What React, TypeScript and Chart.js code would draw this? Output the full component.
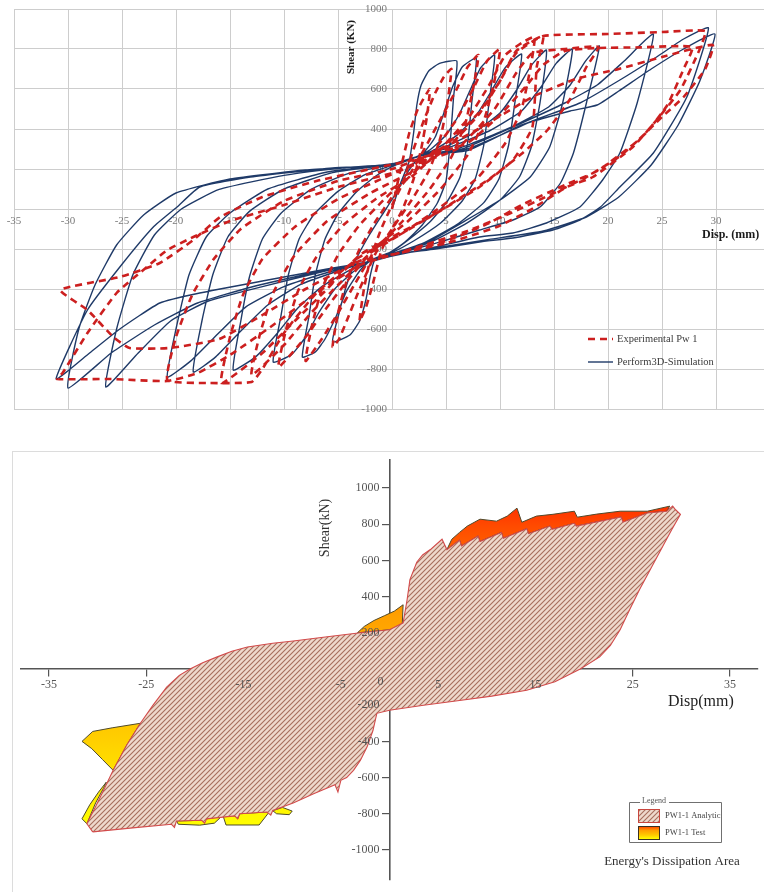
import React, { useEffect, useRef } from 'react';
import { Chart, registerables } from 'chart.js';

Chart.register(...registerables);

type Pt = [number, number];

// ---------- PW1 hysteresis: displacement (mm) vs shear (kN) ----------

// Perform3D simulation, one array per loading cycle
const simCycle1: Pt[] = [
  [0, 0], [0.8, 130], [1.6, 240], [2.0, 380], [2.3, 520], [2.7, 620], [3.4, 690], [4.4, 728], [6.0, 740],
  [5.7, 560], [5.4, 340], [5.0, 140], [4.2, 30], [2.8, -80], [1.2, -165], [-0.3, -220], [-1.6, -255],
  [-2.0, -330], [-2.4, -450], [-3.0, -560], [-3.9, -630], [-5.5, -665],
  [-4.9, -520], [-4.2, -380], [-3.3, -250], [-2.1, -130], [-0.8, -20], [0.5, 90], [1.4, 180], [2.2, 240],
];
const simCycle2: Pt[] = [
  [3.0, 285], [4.0, 360], [4.8, 480], [5.6, 610], [6.5, 710], [7.8, 755],
  [7.4, 540], [7.0, 330], [6.3, 160], [5.2, 45], [3.5, -65], [1.5, -155], [0, -212], [-2.0, -258],
  [-3.0, -310], [-4.2, -410], [-5.2, -540], [-6.2, -650], [-7.1, -715], [-8.3, -740],
  [-7.7, -540], [-7.1, -330], [-6.2, -150], [-5.0, -25], [-3.3, 85], [-1.5, 165], [0, 212], [2.0, 255],
];
const simCycle3: Pt[] = [
  [3.5, 295], [5.0, 370], [6.2, 470], [7.2, 590], [8.2, 705], [9.5, 770],
  [9.0, 540], [8.5, 320], [7.7, 150], [6.5, 40], [4.5, -70], [2.0, -160], [0, -218], [-2.0, -260],
  [-3.5, -310], [-5.3, -400], [-6.8, -520], [-8.0, -640], [-9.3, -728], [-11.0, -765],
  [-10.3, -540], [-9.6, -330], [-8.6, -150], [-7.2, -25], [-5.0, 88], [-2.5, 172], [0, 218], [2.2, 258],
];
const simCycle4: Pt[] = [
  [4.0, 298], [6.0, 368], [7.8, 468], [9.2, 590], [10.5, 708], [12.0, 775],
  [11.4, 540], [10.8, 320], [9.9, 150], [8.5, 32], [6.0, -78], [3.0, -168], [0, -224], [-2.0, -260],
  [-4.0, -308], [-6.5, -388], [-8.8, -500], [-10.6, -620], [-12.6, -738], [-14.7, -805],
  [-14.0, -560], [-13.2, -340], [-12.0, -150], [-10.3, -22], [-7.5, 98], [-4.0, 178], [0, 222], [2.3, 260],
];
const simCycle5: Pt[] = [
  [4.5, 300], [7.5, 378], [10.0, 480], [11.6, 600], [12.9, 718], [14.3, 795],
  [13.7, 530], [12.9, 310], [11.8, 160], [10.0, 45], [7.0, -68], [3.5, -168], [0, -226], [-2.0, -260],
  [-5.0, -310], [-8.5, -378], [-11.5, -480], [-14.0, -610], [-16.3, -738], [-18.4, -815],
  [-17.6, -560], [-16.6, -330], [-15.2, -140], [-13.2, -12], [-10.0, 100], [-5.5, 182], [0, 224], [2.4, 262],
];
const simCycle6: Pt[] = [
  [5.0, 302], [9.0, 390], [12.0, 490], [13.8, 610], [15.2, 728], [16.7, 800],
  [15.8, 530], [14.6, 310], [12.8, 160], [10.0, 45], [7.0, -52], [3.5, -160], [0, -228], [-2.0, -262],
  [-5.5, -310], [-10.0, -388], [-13.5, -488], [-16.0, -618], [-18.6, -758], [-20.8, -840],
  [-20.0, -600], [-18.8, -330], [-17.2, -140], [-15.0, -20], [-11.5, 100], [-6.0, 185], [0, 226], [2.5, 264],
];
const simCycle7: Pt[] = [
  [6.0, 300], [11.0, 408], [14.5, 510], [16.5, 620], [17.9, 738], [19.2, 815],
  [18.0, 530], [16.8, 280], [15.6, 130], [13.7, 10], [11.2, -55], [8.1, -105], [4.0, -172], [0, -230], [-2.0, -262],
  [-6.0, -308], [-12.0, -388], [-17.0, -460], [-20.5, -560], [-23.5, -720], [-26.5, -890],
  [-25.5, -600], [-24.0, -330], [-22.0, -130], [-19.5, 0], [-16.0, 98], [-10.0, 168], [-4.0, 208], [0, 224], [2.6, 266],
];
const simCycle8: Pt[] = [
  [6.5, 300], [12.0, 430], [16.0, 530], [19.0, 620], [21.5, 740], [24.2, 875],
  [22.7, 530], [21.1, 280], [19.5, 145], [17.4, 10], [14.3, -70], [11.2, -120], [8.1, -140], [4.0, -190], [0, -235], [-2.0, -262],
  [-6.5, -310], [-13.0, -390], [-18.0, -470], [-22.0, -580], [-26.0, -720], [-30.0, -895],
  [-29.0, -600], [-27.5, -380], [-25.5, -180], [-23.0, -30], [-20.0, 80], [-15.0, 150], [-8.0, 195], [0, 224], [2.7, 268],
];
const simCycle9: Pt[] = [
  [7.0, 300], [13.0, 440], [17.4, 530], [21.1, 645], [24.5, 760], [27.0, 850], [29.3, 905],
  [27.3, 560], [24.2, 280], [21.1, 110], [19.3, 10], [17.4, -55], [14.9, -105], [11.2, -145], [8.1, -165], [4.0, -200], [0, -228], [-2.0, -262],
  [-6.0, -300], [-12.0, -360], [-17.8, -420], [-21.5, -470], [-25.2, -600], [-28.0, -720], [-31.1, -850],
  [-28.2, -505], [-25.2, -290], [-22.1, -90], [-19.9, 10], [-17.8, 110], [-13.1, 160], [-5.5, 205], [0, 220], [2.8, 270],
];
const simCycle10: Pt[] = [
  [7.0, 292], [12.0, 420], [16.5, 490], [19.0, 520], [21.0, 590], [24.0, 700], [27.0, 800], [29.9, 875],
  [28.5, 640], [26.5, 420], [24.0, 220], [21.0, 60], [18.0, -40], [14.0, -110], [9.0, -152], [4.0, -195], [0, -230],
];
const simCycles = [simCycle1, simCycle2, simCycle3, simCycle4, simCycle5, simCycle6, simCycle7, simCycle8, simCycle9, simCycle10];

// Experimental PW 1, one array per loading cycle
const expCycle1: Pt[] = [
  [0, 0], [0.8, 200], [1.6, 380], [2.4, 500], [3.5, 600],
  [3.2, 450], [2.7, 300], [2.0, 150], [1.0, 0], [0, -100], [-1.0, -210],
  [-1.8, -380], [-2.4, -490], [-3.0, -560],
  [-2.6, -400], [-2.0, -250], [-1.0, -100], [0, 20], [1.0, 130],
];
const expCycle2: Pt[] = [
  [2.0, 300], [3.0, 450], [4.0, 580], [4.8, 660], [5.5, 700],
  [5.1, 520], [4.5, 360], [3.5, 200], [2.0, 60], [0, -100], [-1.5, -220],
  [-3.0, -400], [-4.2, -560], [-4.9, -650], [-5.5, -690],
  [-5.0, -520], [-4.2, -360], [-3.0, -200], [-1.5, -60], [0, 60], [1.5, 160],
];
const expCycle3: Pt[] = [
  [3.0, 300], [4.5, 450], [6.0, 600], [7.0, 710], [8.0, 770],
  [7.5, 600], [6.8, 430], [5.5, 260], [3.5, 100], [1.0, -60], [-1.5, -200],
  [-3.5, -380], [-5.0, -520], [-6.5, -650], [-8.0, -760],
  [-7.4, -580], [-6.5, -400], [-5.0, -230], [-3.0, -80], [-0.5, 60], [2.0, 180],
];
const expCycle4: Pt[] = [
  [4.0, 300], [6.0, 450], [7.5, 600], [8.8, 740], [10.0, 800],
  [9.4, 620], [8.5, 440], [7.0, 270], [4.5, 100], [1.5, -60], [-1.5, -190],
  [-4.0, -350], [-6.0, -490], [-8.0, -640], [-10.5, -790],
  [-9.8, -600], [-8.7, -410], [-7.0, -240], [-4.5, -80], [-1.5, 50], [2.0, 170],
];
const expCycle5: Pt[] = [
  [4.5, 300], [7.0, 450], [9.0, 620], [10.5, 770], [12.0, 830], [13.2, 860],
  [12.8, 700], [12.0, 500], [10.5, 330], [8.0, 160], [4.5, 10], [1.0, -120], [-2.0, -220],
  [-5.0, -380], [-7.5, -520], [-10.0, -680], [-13.0, -830],
  [-12.2, -620], [-11.0, -420], [-9.0, -230], [-6.0, -60], [-2.0, 80], [2.0, 190],
];
const expCycle6: Pt[] = [
  [5.0, 300], [8.0, 470], [10.0, 640], [11.5, 790], [14.0, 865],
  [13.4, 710], [13.0, 410], [11.2, 245], [8.1, 110], [3.5, -40], [0, -140], [-3.0, -230],
  [-6.0, -400], [-9.0, -560], [-12.0, -720], [-15.8, -870],
  [-15.0, -640], [-13.8, -430], [-12.0, -250], [-9.0, -90], [-5.0, 50], [-1.0, 150], [2.0, 220],
];
const expCycle7: Pt[] = [
  [6.0, 300], [9.5, 500], [11.5, 680], [13.0, 780], [16.0, 800], [19.1, 810],
  [18.0, 710], [16.5, 550], [14.4, 395], [12.1, 280], [9.0, 150], [5.0, 10], [1.0, -120], [-3.0, -240],
  [-7.0, -420], [-10.0, -620], [-12.0, -800], [-13.0, -865], [-17.0, -870], [-20.8, -855],
  [-20.0, -640], [-18.5, -430], [-16.5, -250], [-14.0, -100], [-10.0, 40], [-5.0, 140], [0, 200], [3.0, 260],
];
const expCycle8: Pt[] = [
  [7.0, 330], [10.0, 470], [12.5, 620], [14.0, 720], [16.0, 790], [19.0, 805], [23.0, 808], [27.8, 810],
  [27.0, 700], [25.5, 520], [23.5, 380], [21.0, 260], [18.0, 160], [15.0, 80], [11.0, -20], [7.0, -110], [3.0, -180], [0, -230], [-3.0, -280],
  [-7.0, -420], [-11.0, -580], [-15.0, -730], [-18.0, -820], [-20.8, -860], [-26.0, -850], [-31.0, -850],
  [-30.5, -820], [-28.2, -620], [-25.5, -420], [-22.7, -290], [-20.8, -205], [-18.4, -140], [-15.0, -60], [-10.0, 20], [-5.0, 110], [0, 180], [3.0, 250],
];
const expCycle9: Pt[] = [
  [5.0, 320], [8.0, 480], [10.0, 640], [11.5, 780], [14.0, 865], [20.0, 875], [25.0, 885], [29.0, 890],
  [28.5, 800], [26.7, 595], [24.5, 445], [22.3, 310], [18.6, 160], [16.2, 110], [12.8, -5], [9.7, -90], [5.1, -170], [0.7, -220], [-3.0, -260],
  [-8.0, -400], [-12.0, -530], [-16.0, -650], [-20.6, -695], [-24.3, -695], [-25.8, -640], [-28.2, -505], [-30.7, -405],
  [-25.2, -340], [-21.5, -270], [-18.4, -155], [-15.9, -40], [-12.0, 60], [-7.0, 140], [-2.0, 200], [3.0, 260],
];
const expCycle10: Pt[] = [
  [8.0, 400], [13.0, 560], [17.0, 650], [21.0, 700], [25.0, 760], [29.7, 820],
  [29.0, 700], [27.0, 560], [25.0, 460], [22.5, 330], [19.0, 190], [16.0, 120], [12.0, 20], [9.0, -70], [5.0, -160], [1.0, -215],
];
const expCycles = [expCycle1, expCycle2, expCycle3, expCycle4, expCycle5, expCycle6, expCycle7, expCycle8, expCycle9, expCycle10];

// ---------- Energy dissipation areas (closed outlines) ----------
const analyticArea: Pt[] = [
  [-30.5, -900], [-31.1, -855], [-30.2, -760], [-29.3, -660], [-28.4, -560], [-27.0, -420], [-25.6, -300],
  [-24.3, -200], [-22.9, -100], [-21.6, -35], [-20.5, 0], [-19.2, 35], [-17.7, 67], [-16.2, 98], [-14.6, 122],
  [-12.0, 142], [-9.9, 155], [-6.4, 178], [-3.0, 200], [0, 217], [1.4, 255], [1.8, 380], [2.1, 494], [2.8, 590],
  [3.4, 630], [4.2, 660], [5.4, 717], [5.9, 660], [7.2, 712], [7.4, 680], [9.1, 735], [9.3, 705], [11.5, 755],
  [11.7, 722], [14.1, 775], [14.3, 748], [16.5, 790], [16.7, 772], [19.0, 805], [19.2, 790], [23.8, 840],
  [24.0, 812], [26.5, 862], [28.5, 872], [29.1, 900], [29.4, 880], [29.9, 855],
  [29.0, 770], [28.1, 680], [26.9, 560], [25.7, 440], [24.7, 330], [23.7, 217], [22.7, 130], [21.6, 67],
  [19.6, 0], [17.0, -70], [14.1, -117], [10.5, -150], [7.0, -175], [3.5, -200], [0, -228], [-1.3, -245],
  [-1.7, -340], [-2.3, -430], [-3.0, -505], [-3.7, -560], [-4.4, -600], [-5.0, -615], [-5.3, -680], [-5.6, -640],
  [-7.8, -690], [-9.9, -740], [-12.0, -782], [-12.2, -808], [-12.6, -790], [-15.4, -800], [-15.6, -828],
  [-15.9, -812], [-18.8, -828], [-19.0, -852], [-19.3, -836], [-21.9, -840], [-22.1, -876], [-22.4, -858],
  [-26.4, -878], [-30.5, -900],
];
const testTopStrip: Pt[] = [
  [5.9, 660], [6.4, 717], [7.2, 755], [8.0, 790], [9.3, 828], [11.0, 817], [12.1, 845], [13.1, 889], [13.6, 811],
  [15.1, 845], [16.8, 855], [19.0, 872], [19.3, 839], [21.3, 856], [23.7, 872], [26.5, 872], [28.8, 900],
  [28.5, 872], [26.5, 862], [24.0, 812], [23.8, 840], [19.2, 790], [19.0, 805], [16.7, 772], [16.5, 790],
  [14.3, 748], [14.1, 775], [11.7, 722], [11.5, 755], [9.3, 705], [9.1, 735], [7.4, 680], [7.2, 712], [5.9, 660],
];
const testOrigin: Pt[] = [
  [-3.3, 200], [-2.6, 235], [-1.6, 268], [-0.5, 295], [0.5, 320], [1.4, 355], [1.3, 233], [0, 217], [-3.3, 200],
];
const testFin: Pt[] = [
  [-31.6, -400], [-30.5, -345], [-28.5, -325], [-25.6, -300], [-26.3, -360], [-27.0, -420], [-27.7, -490],
  [-28.4, -560], [-29.5, -500], [-30.6, -440], [-31.6, -400],
];
const testSliver: Pt[] = [
  [-31.6, -828], [-30.8, -750], [-29.9, -680], [-29.1, -625], [-29.4, -660], [-30.2, -740], [-31.1, -855], [-31.6, -828],
];
const testBlob1: Pt[] = [
  [-21.9, -840], [-21.7, -858], [-19.5, -863], [-18.0, -852], [-17.2, -812], [-18.8, -828], [-19.3, -836], [-21.9, -840],
];
const testBlob2: Pt[] = [
  [-17.1, -812], [-16.8, -862], [-13.4, -862], [-12.3, -786], [-12.6, -790], [-15.4, -800], [-15.6, -828], [-15.9, -812], [-17.1, -812],
];
const testBlob3: Pt[] = [
  [-12.0, -783], [-11.6, -800], [-10.3, -805], [-10.0, -785], [-11.0, -765], [-12.0, -783],
];
const testAreas = [testTopStrip, testOrigin, testFin, testSliver, testBlob1, testBlob2, testBlob3];

const topShearLabels = [-1000, -800, -600, -400, -200, 200, 400, 600, 800, 1000];
const bottomDispTicks = [-35, -25, -15, -5, 5, 15, 25, 35];
const bottomShearTicks = [-1000, -800, -600, -400, -200, 200, 400, 600, 800, 1000];
const topSeriesNames = ['Experimental Pw 1', 'Perform3D-Simulation'];
const bottomSeriesNames = ['PW1-1 Analytic', 'PW1-1 Test'];

const SERIF = '"Liberation Serif", "DejaVu Serif", serif';
const RED = '#cc1f1f';
const NAVY = '#1f3a68';

const toXY = (pts: Pt[]) => pts.map(([x, y]) => ({ x, y }));

function makeHatch(): CanvasPattern | string {
  const c = document.createElement('canvas');
  c.width = 5;
  c.height = 5;
  const g = c.getContext('2d');
  if (!g) return '#e6cbbb';
  g.fillStyle = '#efd9cc';
  g.fillRect(0, 0, 5, 5);
  g.strokeStyle = '#a66e5c';
  g.lineWidth = 1.1;
  g.beginPath();
  g.moveTo(0, 5); g.lineTo(5, 0);
  g.moveTo(-1, 1); g.lineTo(1, -1);
  g.moveTo(4, 6); g.lineTo(6, 4);
  g.stroke();
  return g.createPattern(c, 'repeat') || '#e6cbbb';
}

function testGradient(ctx: CanvasRenderingContext2D, yTop: number, yBottom: number): CanvasGradient | string {
  if (!Number.isFinite(yTop) || !Number.isFinite(yBottom) || yTop === yBottom) return '#ffcc00';
  const g = ctx.createLinearGradient(0, yTop, 0, yBottom);
  g.addColorStop(0, '#ff3000');
  g.addColorStop(0.06, '#ff4a00');
  g.addColorStop(0.34, '#ffa000');
  g.addColorStop(0.71, '#ffcc00');
  g.addColorStop(1, '#ffff00');
  return g;
}

// value labels beside a centred vertical axis
function drawShearLabels(chart: any, values: number[], gap: number, font: string, color: string) {
  const { ctx, scales } = chart;
  const x0 = scales.x.getPixelForValue(0);
  ctx.save();
  ctx.font = font;
  ctx.fillStyle = color;
  ctx.textAlign = 'right';
  ctx.textBaseline = 'middle';
  values.forEach((v) => ctx.fillText(String(v), x0 - gap, scales.y.getPixelForValue(v)));
  ctx.restore();
}

// value labels under a centred horizontal axis
function drawDispLabels(chart: any, values: number[], gap: number, font: string, color: string) {
  const { ctx, scales } = chart;
  const y0 = scales.y.getPixelForValue(0);
  ctx.save();
  ctx.font = font;
  ctx.fillStyle = color;
  ctx.textAlign = 'center';
  ctx.textBaseline = 'middle';
  values.forEach((v) => ctx.fillText(String(v), scales.x.getPixelForValue(v), y0 + gap));
  ctx.restore();
}

const topDecor = {
  id: 'topDecor',
  beforeDatasetsDraw(chart: any) {
    drawShearLabels(chart, topShearLabels, 5, `11px ${SERIF}`, '#7a7a7a');
  },
  afterDraw(chart: any) {
    const { ctx } = chart;
    ctx.save();
    ctx.fillStyle = '#1a1a1a';
    ctx.font = `bold 11px ${SERIF}`;
    ctx.textAlign = 'center';
    ctx.textBaseline = 'middle';
    ctx.translate(351, 47);
    ctx.rotate(-Math.PI / 2);
    ctx.fillText('Shear (KN)', 0, 0);
    ctx.restore();

    ctx.save();
    ctx.fillStyle = '#1a1a1a';
    ctx.font = `bold 12px ${SERIF}`;
    ctx.textAlign = 'left';
    ctx.textBaseline = 'middle';
    ctx.fillText('Disp. (mm)', 702, 235);

    // legend
    ctx.lineWidth = 2.6;
    ctx.strokeStyle = RED;
    ctx.setLineDash([7, 5]);
    ctx.beginPath();
    ctx.moveTo(588, 339);
    ctx.lineTo(613, 339);
    ctx.stroke();
    ctx.setLineDash([]);
    ctx.lineWidth = 1.4;
    ctx.strokeStyle = NAVY;
    ctx.beginPath();
    ctx.moveTo(588, 362);
    ctx.lineTo(613, 362);
    ctx.stroke();
    ctx.font = `10.5px ${SERIF}`;
    ctx.fillStyle = '#3a3a3a';
    ctx.fillText(topSeriesNames[0], 617, 339);
    ctx.fillText(topSeriesNames[1], 617, 362);
    ctx.restore();
  },
};

function bottomDecor(hatch: CanvasPattern | string) {
  return {
    id: 'bottomDecor',
    afterDraw(chart: any) {
      const { ctx, scales } = chart;
      drawShearLabels(chart, bottomShearTicks, 10, `12px ${SERIF}`, '#555');
      drawDispLabels(chart, bottomDispTicks, 16, `12px ${SERIF}`, '#555');
      const ox = scales.x.getPixelForValue(0);
      const oy = scales.y.getPixelForValue(0);
      ctx.save();
      ctx.fillStyle = '#555';
      ctx.font = `12px ${SERIF}`;
      ctx.textAlign = 'center';
      ctx.textBaseline = 'middle';
      ctx.fillText('0', ox - 9, oy + 13);

      ctx.fillStyle = '#333';
      ctx.font = `14px ${SERIF}`;
      ctx.save();
      ctx.translate(325, 88);
      ctx.rotate(-Math.PI / 2);
      ctx.fillText('Shear(kN)', 0, 0);
      ctx.restore();

      ctx.font = `16px ${SERIF}`;
      ctx.fillStyle = '#222';
      ctx.textAlign = 'left';
      ctx.fillText('Disp(mm)', 668, 262);

      // legend box
      ctx.strokeStyle = '#707070';
      ctx.lineWidth = 1;
      ctx.beginPath();
      ctx.moveTo(640, 362.5);
      ctx.lineTo(629.5, 362.5);
      ctx.lineTo(629.5, 402.5);
      ctx.lineTo(721.5, 402.5);
      ctx.lineTo(721.5, 362.5);
      ctx.lineTo(669, 362.5);
      ctx.stroke();
      ctx.font = `8px ${SERIF}`;
      ctx.fillStyle = '#555';
      ctx.fillText('Legend', 642, 361);

      ctx.fillStyle = hatch;
      ctx.fillRect(638, 369, 21, 13);
      ctx.strokeStyle = '#c8463e';
      ctx.strokeRect(638.5, 369.5, 21, 13);
      ctx.fillStyle = testGradient(ctx, 386, 399);
      ctx.fillRect(638, 386, 21, 13);
      ctx.strokeStyle = '#3a3020';
      ctx.strokeRect(638.5, 386.5, 21, 13);

      ctx.fillStyle = '#444';
      ctx.font = `8.5px ${SERIF}`;
      ctx.fillText(bottomSeriesNames[0], 665, 376);
      ctx.fillText(bottomSeriesNames[1], 665, 393);

      ctx.font = `13px ${SERIF}`;
      ctx.fillStyle = '#333';
      ctx.textAlign = 'center';
      ctx.fillText("Energy's Dissipation Area", 672, 422);
      ctx.restore();
    },
  };
}

export default function App() {
  const topRef = useRef<HTMLCanvasElement>(null);
  const botRef = useRef<HTMLCanvasElement>(null);

  useEffect(() => {
    if (!topRef.current || !botRef.current) return;
    const hatch = makeHatch();

    const top = new Chart(topRef.current, {
      type: 'scatter',
      data: {
        datasets: [
          {
            label: topSeriesNames[0],
            data: toXY(expCycles.flat()),
            showLine: true,
            borderColor: RED,
            borderWidth: 2.6,
            borderDash: [7, 5],
            pointRadius: 0,
            tension: 0.15,
            fill: false,
          },
          {
            label: topSeriesNames[1],
            data: toXY(simCycles.flat()),
            showLine: true,
            borderColor: NAVY,
            borderWidth: 1.4,
            pointRadius: 0,
            tension: 0.15,
            fill: false,
          },
        ],
      },
      options: {
        responsive: false,
        animation: false,
        events: [],
        layout: { padding: { left: 14, right: 10, top: 9, bottom: 21 } },
        plugins: { legend: { display: false }, tooltip: { enabled: false } },
        scales: {
          x: {
            type: 'linear',
            min: -35,
            max: 35,
            position: { y: 0 } as any,
            afterFit: (s: any) => { s.height = 0; s.paddingLeft = 0; s.paddingRight = 0; },
            ticks: { stepSize: 5, padding: 6, color: '#7a7a7a', font: { family: SERIF, size: 11 }, maxRotation: 0, autoSkip: false },
            grid: { color: '#cdcdcd', drawTicks: false },
            border: { color: '#cdcdcd' },
          },
          y: {
            type: 'linear',
            min: -1000,
            max: 1000,
            position: { x: 0 } as any,
            afterFit: (s: any) => { s.width = 0; s.paddingTop = 0; s.paddingBottom = 0; },
            ticks: { stepSize: 200, display: false },
            grid: { color: '#cdcdcd', drawTicks: false },
            border: { color: '#cdcdcd' },
          },
        },
      },
      plugins: [topDecor],
    });

    const testBg = (c: any) => {
      const ch = c.chart;
      const ys = ch && ch.scales && ch.scales.y;
      if (!ys || !ch.chartArea) return '#ffcc00';
      return testGradient(ch.ctx, ys.getPixelForValue(900), ys.getPixelForValue(-870));
    };

    const bot = new Chart(botRef.current, {
      type: 'scatter',
      data: {
        datasets: [
          {
            label: bottomSeriesNames[0],
            data: toXY(analyticArea),
            showLine: true,
            fill: 'shape',
            backgroundColor: hatch as any,
            borderColor: '#d24b4b',
            borderWidth: 1.1,
            pointRadius: 0,
            tension: 0,
          },
          ...testAreas.map((a) => ({
            label: bottomSeriesNames[1],
            data: toXY(a),
            showLine: true,
            fill: 'shape',
            backgroundColor: testBg,
            borderColor: '#4f4a2c',
            borderWidth: 1,
            pointRadius: 0,
            tension: 0,
          })),
        ] as any,
      },
      options: {
        responsive: false,
        animation: false,
        events: [],
        layout: { padding: { left: 21, right: 22, top: 20, bottom: 12 } },
        plugins: { legend: { display: false }, tooltip: { enabled: false } },
        scales: {
          x: {
            type: 'linear',
            min: -37.87,
            max: 37.87,
            position: { y: 0 } as any,
            afterFit: (s: any) => { s.height = 0; s.paddingLeft = 0; s.paddingRight = 0; },
            afterBuildTicks: (s: any) => { s.ticks = bottomDispTicks.map((value) => ({ value })); },
            ticks: { display: false },
            grid: { drawOnChartArea: false, drawTicks: true, tickLength: 7, color: '#555', lineWidth: 1.2 },
            border: { color: '#555', width: 1.6 },
          },
          y: {
            type: 'linear',
            min: -1166,
            max: 1155,
            position: { x: 0 } as any,
            afterFit: (s: any) => { s.width = 0; s.paddingTop = 0; s.paddingBottom = 0; },
            afterBuildTicks: (s: any) => { s.ticks = bottomShearTicks.map((value) => ({ value })); },
            ticks: { display: false },
            grid: { drawOnChartArea: false, drawTicks: true, tickLength: 7, color: '#555', lineWidth: 1.2 },
            border: { color: '#555', width: 1.6 },
          },
        },
      },
      plugins: [bottomDecor(hatch)],
    });
    // second pass so the gradient is built against the laid-out scales
    bot.update();

    return () => {
      top.destroy();
      bot.destroy();
    };
  }, []);

  return (
    <div style={{ position: 'absolute', left: 0, top: 0, width: 764, height: 892, overflow: 'hidden', background: '#fff' }}>
      <canvas ref={topRef} width={780} height={430} style={{ position: 'absolute', left: 0, top: 0 }} />
      <div
        style={{
          position: 'absolute',
          left: 12,
          top: 451,
          width: 800,
          height: 500,
          border: '1.5px solid #dcdcdc',
          boxSizing: 'border-box',
        }}
      />
      <canvas ref={botRef} width={780} height={452} style={{ position: 'absolute', left: 0, top: 440 }} />
    </div>
  );
}
